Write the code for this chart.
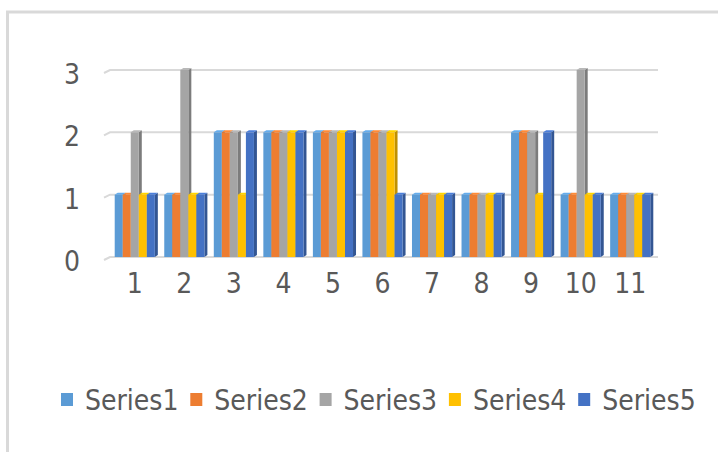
<!DOCTYPE html>
<html>
<head>
<meta charset="utf-8">
<script src="https://cdn.jsdelivr.net/npm/d3@7"></script>
<style>
  body { margin: 0; background: #fff; }
  #chart text { font-family: "Liberation Sans Narrow", "DejaVu Sans Condensed", sans-serif; fill: #595959; }
</style>
</head>
<body>
<div id="chart"></div>
<script>
// data
let categories = ["1", "2", "3", "4", "5", "6", "7", "8", "9", "10", "11"];
let seriesNames = ["Series1", "Series2", "Series3", "Series4", "Series5"];
let series1 = [1, 1, 2, 2, 2, 2, 1, 1, 2, 1, 1];
let series2 = [1, 1, 2, 2, 2, 2, 1, 1, 2, 1, 1];
let series3 = [2, 3, 2, 2, 2, 2, 1, 1, 2, 3, 1];
let series4 = [1, 1, 1, 2, 2, 2, 1, 1, 1, 1, 1];
let series5 = [1, 1, 2, 2, 2, 1, 1, 1, 2, 1, 1];
let yTicks = [0, 1, 2, 3];
let colors = ["#5B9BD5", "#ED7D31", "#A5A5A5", "#FFC000", "#4472C4"];

let allSeries = [series1, series2, series3, series4, series5];

let W = 718,
  H = 452;

let svg = d3
  .select("#chart")
  .append("svg")
  .attr("width", W)
  .attr("height", H);

// chart frame (runs off the right and bottom edge)
svg
  .append("rect")
  .attr("x", 7.5)
  .attr("y", 12)
  .attr("width", 800)
  .attr("height", 800)
  .attr("fill", "#fff")
  .attr("stroke", "#d9d9d9")
  .attr("stroke-width", 3);

// scales
var x = d3
  .scaleBand()
  .domain(categories)
  .range([110, 655])
  .paddingInner(0.19)
  .paddingOuter(0.095);
var xs = d3
  .scaleBand()
  .domain(seriesNames)
  .range([0, x.bandwidth()]);
var y = d3
  .scaleLinear()
  .domain([0, 3])
  .range([257, 70]);

// gridlines with the little 3d lip at the left
let grid = svg.append("g");
yTicks.forEach(t => {
  grid
    .append("path")
    .attr("d", "M104," + (y(t) + 3) + "L110," + y(t) + "L658," + y(t))
    .attr("fill", "none")
    .attr("stroke", "#d9d9d9")
    .attr("stroke-width", 2);
});

// y axis labels
svg
  .append("g")
  .selectAll("text")
  .data(yTicks)
  .enter()
  .append("text")
  .attr("x", 80)
  .attr("y", d => y(d) + 6)
  .attr("text-anchor", "end")
  .attr("dominant-baseline", "middle")
  .style("font-size", "28px")
  .text(d => d);

// x axis labels
svg
  .append("g")
  .selectAll("text")
  .data(categories)
  .enter()
  .append("text")
  .attr("x", d => x(d) + x.bandwidth() / 2)
  .attr("y", 285)
  .attr("text-anchor", "middle")
  .attr("dominant-baseline", "middle")
  .style("font-size", "28px")
  .text(d => d);

// bars, drawn as small 3d columns
let dx = 3,
  dy = 2;
let bars = svg.append("g");
categories.forEach((c, ci) => {
  allSeries.forEach((s, si) => {
    let bx = x(c) + xs(seriesNames[si]),
      bw = xs.bandwidth(),
      top = y(s[ci]),
      base = y(0),
      col = d3.color(colors[si]);
    let g = bars.append("g");
    // side face
    g.append("path")
      .attr(
        "d",
        "M" + (bx + bw) + "," + top +
          "L" + (bx + bw + dx) + "," + (top - dy) +
          "L" + (bx + bw + dx) + "," + (base - dy) +
          "L" + (bx + bw) + "," + base + "Z"
      )
      .attr("fill", col.darker(0.8));
    // top face
    g.append("path")
      .attr(
        "d",
        "M" + bx + "," + top +
          "L" + (bx + dx) + "," + (top - dy) +
          "L" + (bx + bw + dx) + "," + (top - dy) +
          "L" + (bx + bw) + "," + top + "Z"
      )
      .attr("fill", col.brighter(0.3));
    // front face
    g.append("rect")
      .attr("x", bx)
      .attr("y", top)
      .attr("width", bw)
      .attr("height", base - top)
      .attr("fill", colors[si]);
  });
});

// legend
let legend = svg.append("g");
seriesNames.forEach((name, i) => {
  let lx = 61 + i * 129.3;
  legend
    .append("rect")
    .attr("x", lx)
    .attr("y", 393)
    .attr("width", 12)
    .attr("height", 13)
    .attr("fill", colors[i]);
  legend
    .append("text")
    .attr("x", lx + 24)
    .attr("y", 402)
    .attr("dominant-baseline", "middle")
    .style("font-size", "28px")
    .text(name);
});
</script>
</body>
</html>
